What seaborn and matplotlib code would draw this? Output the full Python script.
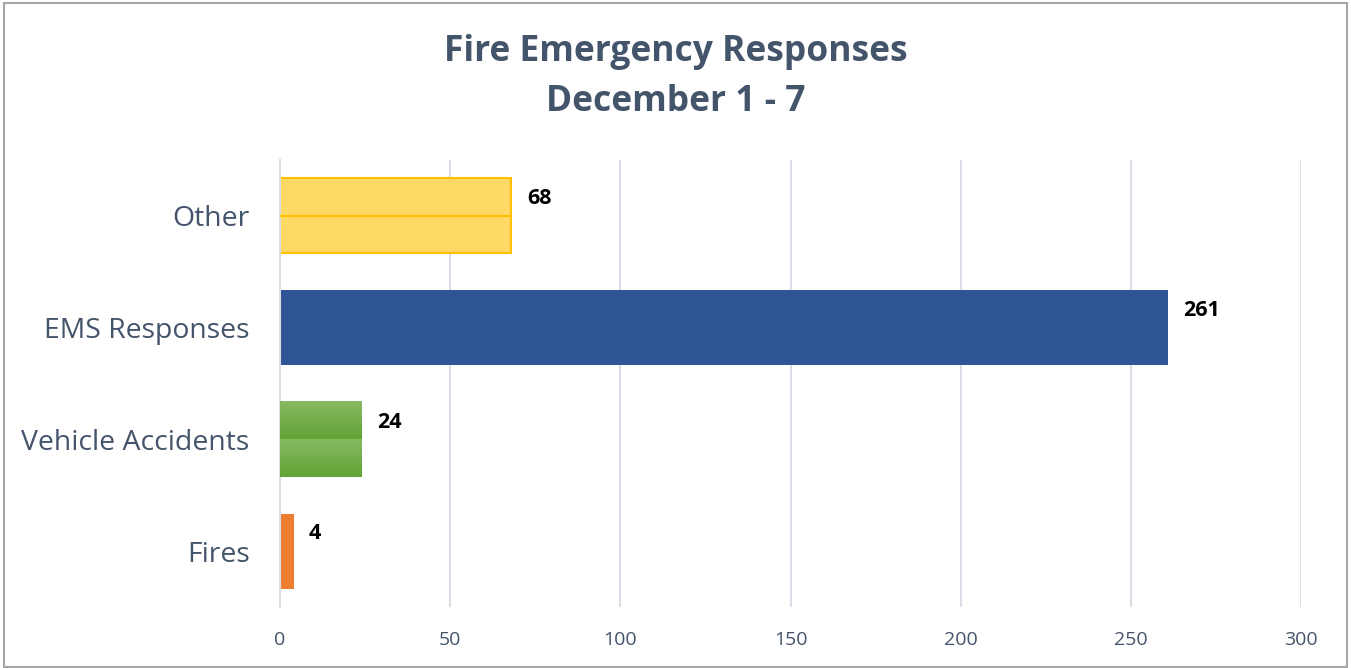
import numpy as np
import pandas as pd
import matplotlib.pyplot as plt
import seaborn as sns
from matplotlib.patches import Rectangle
from matplotlib.colors import LinearSegmentedColormap

categorias = ['Other', 'EMS Responses', 'Vehicle Accidents', 'Fires']
valores = [68, 261, 24, 4]
cores = ['#FFD966', '#2F5597', '#70AD47', '#ED7D31']
bordas = ['#FFC000', '#2F5597', '#70AD47', '#ED7D31']
xticks = [0, 50, 100, 150, 200, 250, 300]

dados = pd.DataFrame({'categoria': categorias, 'valor': valores})

sns.set_style('white')
plt.rcParams['font.family'] = ['Open Sans', 'DejaVu Sans']

fig = plt.figure(figsize=(13.51, 6.68), dpi=100)
ax = fig.add_axes([0.2073, 0.0913, 0.7557, 0.6692])

sns.barplot(data=dados, y='categoria', x='valor', hue='categoria', palette=cores,
            legend=False, orient='h', width=0.67, ax=ax, saturation=1)

for p, borda, v in zip(ax.patches, bordas, valores):
    p.set_edgecolor(borda)
    p.set_linewidth(1.5 if borda == '#FFC000' else 0)
    y0, h = p.get_y(), p.get_height()
    # linha no meio da barra amarela (estilo excel)
    if borda == '#FFC000':
        ax.plot([0, v], [y0 + h / 2] * 2, color=borda, lw=1.5, zorder=3)
    ax.text(v + 4.5, y0 + h * 0.27, str(v), fontsize=15.5, fontweight='bold',
            color='black', va='center', ha='left')

# gradiente no verde
pv = ax.patches[2]
yv, hv = pv.get_y(), pv.get_height()
cmap_verde = LinearSegmentedColormap.from_list('g', ['#86BA63', '#62A336'])
for k in range(2):
    grad = np.linspace(0, 1, 50).reshape(-1, 1)
    ax.imshow(grad, extent=[0, valores[2], yv + hv * (k + 1) / 2, yv + hv * k / 2],
              cmap=cmap_verde, aspect='auto', zorder=3, origin='upper')

ax.set_xlim(0, 300)
ax.set_ylim(3.5, -0.5)
ax.set_xticks(xticks)
ax.xaxis.grid(True, color='#D9DEE6', lw=1.5)
ax.set_axisbelow(True)
for s in ['top', 'right', 'bottom']:
    ax.spines[s].set_visible(False)
ax.spines['left'].set_color('#D9DEE6')
ax.spines['left'].set_linewidth(1.5)
ax.set_yticks([-0.5, 0.5, 1.5, 2.5, 3.5], minor=True)
ax.set_yticks(range(4))
ax.set_yticklabels(categorias)
ax.tick_params(axis='y', which='major', length=0, labelsize=20.4, labelcolor='#44546A', pad=22)
ax.tick_params(axis='y', which='minor', length=8, color='#D9DEE6', width=1.5)
ax.tick_params(axis='x', length=0, labelsize=14, labelcolor='#44546A', pad=17)
ax.set_xlabel('')
ax.set_ylabel('')

fig.text(0.5, 0.922, 'Fire Emergency Responses', ha='center', va='center',
         fontsize=25.5, fontweight='bold', color='#44546A')
fig.text(0.5, 0.847, 'December 1 - 7', ha='center', va='center',
         fontsize=25.5, fontweight='bold', color='#44546A')

fig.patches.append(Rectangle((0.003, 0.002), 0.994, 0.993, transform=fig.transFigure,
                             fill=False, edgecolor='#A6A6A6', lw=1.5))

plt.savefig('out.png', dpi=100)
